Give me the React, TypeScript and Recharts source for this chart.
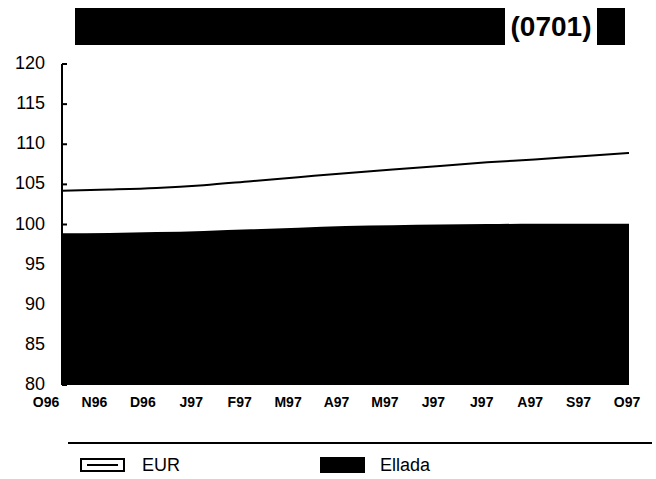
import { ComposedChart, Area, Line, XAxis, YAxis } from 'recharts';

const months = ['O96', 'N96', 'D96', 'J97', 'F97', 'M97', 'A97', 'M97', 'J97', 'J97', 'A97', 'S97', 'O97'];
const eur = [104.2, 104.35, 104.55, 104.9, 105.4, 105.9, 106.4, 106.85, 107.3, 107.75, 108.1, 108.5, 108.9];
const ellada = [98.9, 98.95, 99.05, 99.2, 99.4, 99.6, 99.8, 99.9, 100.0, 100.05, 100.1, 100.1, 100.1];
const yTicks = [80, 85, 90, 95, 100, 105, 110, 115, 120];

const data = months.map((m, i) => ({ i, month: m, eur: eur[i], ellada: ellada[i] }));

const font = '"Liberation Sans", Arial, sans-serif';

// eslint-disable-next-line @typescript-eslint/no-explicit-any
function YTick(props: any) {
  const { x, y, payload } = props;
  return (
    <g>
      <line x1={x} x2={x + 5} y1={y} y2={y} stroke="#000" strokeWidth={2} />
      <text x={x - 17} y={y} dy={5} textAnchor="end" fontSize={18} fill="#000" fontFamily={font}>
        {payload.value}
      </text>
    </g>
  );
}

// eslint-disable-next-line @typescript-eslint/no-explicit-any
function XTick(props: any) {
  const { x, y, payload } = props;
  return (
    <text x={x} y={y} dy={14} textAnchor="middle" fontSize={14} fontWeight="bold" fill="#000" fontFamily={font}>
      {months[payload.value]}
    </text>
  );
}

export default function App() {
  return (
    <div style={{ position: 'absolute', left: 0, top: 0, width: 656, height: 479, background: '#fff', fontFamily: font }}>
      {/* title bar */}
      <div style={{ position: 'absolute', left: 75, top: 8, width: 430, height: 37, background: '#000' }} />
      <div
        style={{
          position: 'absolute',
          left: 505,
          top: 8,
          width: 92,
          height: 37,
          lineHeight: '37px',
          textAlign: 'center',
          fontSize: 28,
          fontWeight: 'bold',
          color: '#000',
          whiteSpace: 'pre',
        }}
      >
        (0701)
      </div>
      <div style={{ position: 'absolute', left: 597, top: 8, width: 28, height: 37, background: '#000' }} />

      <div style={{ position: 'absolute', left: 0, top: 0 }}>
        <ComposedChart width={656} height={420} data={data} margin={{ top: 64, right: 27, left: 0, bottom: 0 }}>
          <XAxis dataKey="i" type="number" domain={[0, 12]} hide height={0} />
          <XAxis
            xAxisId="lab"
            dataKey="i"
            type="number"
            domain={[0, 12]}
            ticks={[0, 1, 2, 3, 4, 5, 6, 7, 8, 9, 10, 11, 12]}
            padding={{ left: -16, right: 2 }}
            axisLine={false}
            tickLine={false}
            tick={<XTick />}
            height={35}
            interval={0}
          />
          <YAxis
            domain={[80, 120]}
            ticks={yTicks}
            width={62}
            tickSize={0}
            tickMargin={0}
            axisLine={{ stroke: '#000', strokeWidth: 2 }}
            tickLine={false}
            tick={<YTick />}
            interval={0}
          />
          <Area
            dataKey="ellada"
            type="monotone"
            fill="#000"
            fillOpacity={1}
            stroke="none"
            baseValue={80}
            isAnimationActive={false}
          />
          <Line dataKey="eur" type="monotone" stroke="#000" strokeWidth={2} dot={false} isAnimationActive={false} />
        </ComposedChart>
      </div>

      {/* legend */}
      <div style={{ position: 'absolute', left: 68, top: 442, width: 584, height: 2, background: '#000' }} />
      <div style={{ position: 'absolute', left: 80, top: 458, width: 41, height: 10, border: '2px solid #000' }}>
        <div style={{ position: 'absolute', left: 5, right: 5, top: 4, height: 2, background: '#000' }} />
      </div>
      <div style={{ position: 'absolute', left: 142, top: 454, fontSize: 18, lineHeight: '22px', color: '#000' }}>EUR</div>
      <div style={{ position: 'absolute', left: 320, top: 457, width: 45, height: 16, background: '#000' }} />
      <div style={{ position: 'absolute', left: 380, top: 454, fontSize: 18, lineHeight: '22px', color: '#000' }}>Ellada</div>
    </div>
  );
}
